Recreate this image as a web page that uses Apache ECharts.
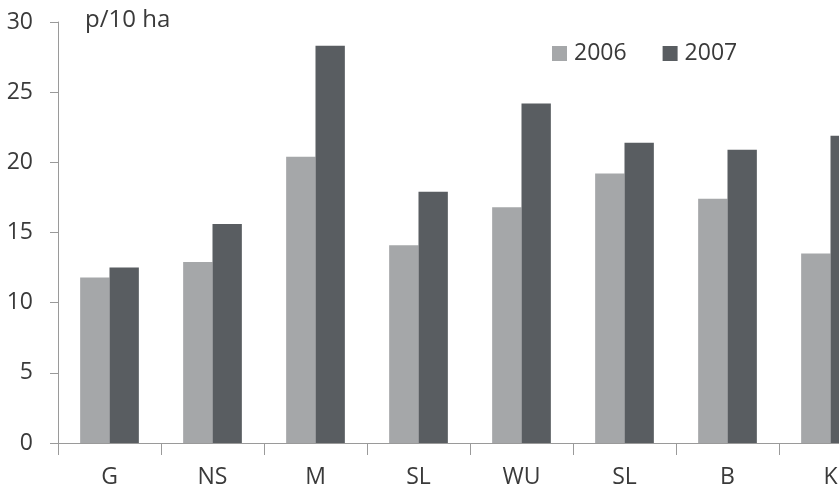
<!DOCTYPE html>
<html>
<head>
<meta charset="utf-8">
<script src="https://cdn.jsdelivr.net/npm/echarts@6/dist/echarts.min.js"></script>
<style>
  html, body { margin: 0; padding: 0; background: #ffffff; overflow: hidden; }
  /* the plot runs past the right edge of the page, so the last group is cut off */
  #chart { width: 892px; height: 492px; }
</style>
</head>
<body>
<div id="chart"></div>
<script>
// Density per 10 ha by site, two survey years
const categories = ['G', 'NS', 'M', 'SL', 'WU', 'SL', 'B', 'K'];
const values2006 = [11.8, 12.9, 20.4, 14.1, 16.8, 19.2, 17.4, 13.5];
const values2007 = [12.5, 15.6, 28.3, 17.9, 24.2, 21.4, 20.9, 21.9];
const yTicks = [0, 5, 10, 15, 20, 25, 30];
const unitLabel = 'p/10 ha';

const FONT = '"Open Sans", "Noto Sans", sans-serif';
const TEXT = '#3a3a3a';
const AXIS = '#9a9a9a';
const chart = echarts.init(document.getElementById('chart'));

chart.setOption({
  animation: false,
  backgroundColor: '#ffffff',
  textStyle: { fontFamily: FONT },
  title: {
    text: unitLabel,
    left: 80,
    top: 3,
    textStyle: { fontFamily: FONT, fontSize: 24, fontWeight: 'normal', color: TEXT }
  },
  legend: {
    left: 547,
    top: 37,
    itemWidth: 15,
    itemHeight: 15,
    itemGap: 36,
    icon: 'rect',
    textStyle: { fontFamily: FONT, fontSize: 23, color: TEXT, padding: [0, 0, 0, 2] },
    data: ['2006', '2007']
  },
  grid: { left: 58, top: 22, width: 824, height: 421, containLabel: false },
  xAxis: {
    type: 'category',
    data: categories,
    axisLine: { lineStyle: { color: AXIS, width: 1 } },
    axisTick: { show: true, length: 12, lineStyle: { color: AXIS } },
    axisLabel: { fontFamily: FONT, fontSize: 23, color: TEXT, margin: 23 }
  },
  yAxis: {
    type: 'value',
    min: yTicks[0],
    max: yTicks[yTicks.length - 1],
    interval: yTicks[1] - yTicks[0],
    axisLine: { show: true, lineStyle: { color: AXIS, width: 1 } },
    axisTick: { show: true, length: 8, lineStyle: { color: AXIS } },
    splitLine: { show: false },
    axisLabel: { fontFamily: FONT, fontSize: 23, color: TEXT, margin: 25 }
  },
  series: [
    {
      name: '2006',
      type: 'bar',
      data: values2006,
      barGap: '0%',
      barCategoryGap: '43%',
      itemStyle: { color: '#a5a7a9' }
    },
    {
      name: '2007',
      type: 'bar',
      data: values2007,
      itemStyle: { color: '#595d61' }
    }
  ]
});
</script>
</body>
</html>
